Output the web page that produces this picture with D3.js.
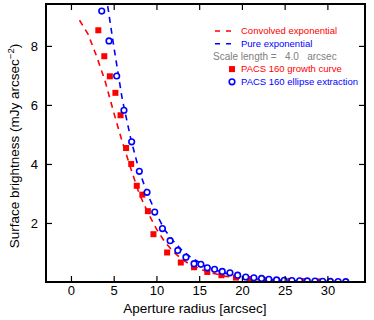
<!DOCTYPE html>
<html>
<head>
<meta charset="utf-8">
<script src="https://cdn.jsdelivr.net/npm/d3@7"></script>
<style>
  body { margin: 0; background: #fff; }
  svg text { font-family: "Liberation Sans", Arial, Helvetica, sans-serif; white-space: pre; }
</style>
</head>
<body>
<div id="chart"></div>
<script>
// surface brightness profile

// PACS 160 growth curve (red squares)
const growthR = [3.2, 3.9, 4.55, 5.2, 5.8, 6.45, 7.05, 7.7, 8.35, 9.0, 9.65, 11.25, 12.85, 14.4, 15.95, 17.6, 19.3, 20.9, 22.5, 24.1, 25.7, 27.3, 28.9];
const growthSB = [8.53, 7.65, 6.97, 6.41, 5.65, 4.54, 4.0, 3.26, 2.96, 2.4, 1.62, 1.0, 0.66, 0.5, 0.34, 0.23, 0.15, 0.1, 0.07, 0.05, 0.04, 0.03, 0.02];

// PACS 160 ellipse extraction (blue circles)
const ellipseR = [3.6, 4.45, 5.35, 6.2, 7.1, 8.0, 8.9, 9.8, 10.7, 11.6, 12.5, 13.45, 14.4, 15.2, 15.95, 16.8, 17.7, 18.6, 19.5, 20.45, 21.4, 22.3, 23.15, 24.05, 24.95, 25.85, 26.75, 27.65, 28.55, 29.45, 30.35, 31.25, 32.15];
const ellipseSB = [9.18, 8.17, 6.98, 5.82, 4.75, 3.75, 3.04, 2.37, 1.81, 1.4, 1.07, 0.84, 0.62, 0.6, 0.48, 0.43, 0.36, 0.31, 0.23, 0.17, 0.14, 0.12, 0.09, 0.07, 0.06, 0.05, 0.04, 0.035, 0.03, 0.025, 0.02, 0.015, 0.01];

// convolved exponential (red dashed)
const convR = [1.0, 2.0, 3.0, 4.0, 5.0, 6.0, 7.0, 8.0, 9.0, 10, 11, 12, 13, 14, 16, 18, 20, 22, 24, 26, 28, 30, 32, 33];
const convSB = [8.87, 8.4, 7.65, 6.8, 5.75, 4.75, 3.85, 2.98, 2.35, 1.8, 1.35, 1.02, 0.77, 0.58, 0.34, 0.2, 0.12, 0.08, 0.05, 0.03, 0.02, 0.015, 0.01, 0.01];

// pure exponential (blue dashed)
const pureR = [4.3, 5.0, 6.0, 7.0, 8.0, 9.0, 10, 11, 12, 13, 14, 16, 18, 20, 22, 24, 26, 28, 30, 32, 33];
const pureSB = [9.35, 8.0, 6.2, 4.85, 3.75, 2.95, 2.3, 1.75, 1.38, 1.07, 0.84, 0.5, 0.3, 0.18, 0.11, 0.07, 0.04, 0.025, 0.015, 0.01, 0.01];

const xTicks = [0, 5, 10, 15, 20, 25, 30];
const yTicks = [2, 4, 6, 8];

const legendItems = [
  { label: "Convolved exponential", color: "#ff0000", kind: "dash" },
  { label: "Pure exponential", color: "#0000ff", kind: "dash" },
  { label: "Scale length =   4.0   arcsec", color: "#808080", kind: "text" },
  { label: "PACS 160 growth curve", color: "#ff0000", kind: "square" },
  { label: "PACS 160 ellipse extraction", color: "#0000ff", kind: "circle" }
];

const W = 374, H = 320;
const margin = { top: 4, right: 9, bottom: 38, left: 46 };
const width = W - margin.left - margin.right;
const height = H - margin.top - margin.bottom;

const svg = d3.select("#chart").append("svg")
  .attr("width", W)
  .attr("height", H);

const g = svg.append("g")
  .attr("transform", `translate(${margin.left},${margin.top})`);

const x = d3.scaleLinear().domain([-2.92, 34.4]).range([0, width]);
const y = d3.scaleLinear().domain([0, 9.42]).range([height, 0]);

svg.append("defs").append("clipPath").attr("id", "plot-clip")
  .append("rect").attr("width", width).attr("height", height);

const plot = g.append("g").attr("clip-path", "url(#plot-clip)");

// dashed model curves
const line = d3.line().x(d => x(d[0])).y(d => y(d[1]));

plot.append("path")
  .datum(d3.zip(convR, convSB))
  .attr("fill", "none")
  .attr("stroke", "#ff0000")
  .attr("stroke-width", 1.6)
  .attr("stroke-dasharray", "6,5")
  .attr("d", line);

plot.append("path")
  .datum(d3.zip(pureR, pureSB))
  .attr("fill", "none")
  .attr("stroke", "#0000ff")
  .attr("stroke-width", 1.6)
  .attr("stroke-dasharray", "6,5")
  .attr("d", line);

// growth curve squares
plot.selectAll(".sq")
  .data(d3.zip(growthR, growthSB))
  .enter().append("rect")
  .attr("class", "sq")
  .attr("x", d => x(d[0]) - 3)
  .attr("y", d => y(d[1]) - 3)
  .attr("width", 6)
  .attr("height", 6)
  .attr("fill", "#ff0000");

// ellipse extraction circles
plot.selectAll(".circ")
  .data(d3.zip(ellipseR, ellipseSB))
  .enter().append("circle")
  .attr("class", "circ")
  .attr("cx", d => x(d[0]))
  .attr("cy", d => y(d[1]))
  .attr("r", 2.8)
  .attr("fill", "#fff")
  .attr("stroke", "#0000ff")
  .attr("stroke-width", 1.6);

// axes: ticks point inward on all four sides
const tickLen = 6;

const xBottom = g.append("g")
  .attr("transform", `translate(0,${height})`)
  .call(d3.axisBottom(x).tickValues(xTicks).tickSize(-tickLen).tickPadding(4));
const xTop = g.append("g")
  .call(d3.axisTop(x).tickValues(xTicks).tickSize(-tickLen).tickFormat(""));
const yLeft = g.append("g")
  .call(d3.axisLeft(y).tickValues(yTicks).tickSize(-tickLen).tickPadding(8));
const yRight = g.append("g")
  .attr("transform", `translate(${width},0)`)
  .call(d3.axisRight(y).tickValues(yTicks).tickSize(-tickLen).tickFormat(""));

[xBottom, xTop, yLeft, yRight].forEach(a => {
  a.select(".domain").remove();
  a.selectAll("line").attr("stroke", "#000").attr("stroke-width", 1.2);
  a.selectAll("text")
    .attr("fill", "#000")
    .style("font-size", "13px")
    .style("font-family", "'Liberation Sans', Arial, sans-serif");
});

// frame
g.append("rect")
  .attr("width", width)
  .attr("height", height)
  .attr("fill", "none")
  .attr("stroke", "#000")
  .attr("stroke-width", 2);

// axis titles
svg.append("text")
  .attr("x", margin.left + x(14.5))
  .attr("y", 313)
  .attr("text-anchor", "middle")
  .style("font-size", "13.5px")
  .text("Aperture radius [arcsec]");

const yTitle = svg.append("text")
  .attr("transform", `translate(19,${margin.top + height / 2 + 3}) rotate(-90)`)
  .attr("text-anchor", "middle")
  .style("font-size", "13.5px");
yTitle.append("tspan").text("Surface brightness (mJy arcsec");
yTitle.append("tspan").attr("dy", -5).style("font-size", "9.5px").text("\u22122");
yTitle.append("tspan").attr("dy", 5).text(")");

// legend
const leg = svg.append("g").attr("transform", "translate(241,31)");
legendItems.forEach((it, i) => {
  const row = leg.append("g").attr("transform", `translate(0,${i * 12.7})`);
  if (it.kind === "dash") {
    row.append("line")
      .attr("x1", -26).attr("x2", -10)
      .attr("y1", 0).attr("y2", 0)
      .attr("stroke", it.color)
      .attr("stroke-width", 1.4)
      .attr("stroke-dasharray", "5,6");
  } else if (it.kind === "square") {
    row.append("rect")
      .attr("x", -12).attr("y", -3)
      .attr("width", 6).attr("height", 6)
      .attr("fill", it.color);
  } else if (it.kind === "circle") {
    row.append("circle")
      .attr("cx", -9).attr("cy", 0).attr("r", 2.8)
      .attr("fill", "#fff")
      .attr("stroke", it.color)
      .attr("stroke-width", 1.6);
  }
  row.append("text")
    .attr("x", it.kind === "text" ? -28 : 0)
    .attr("y", 3.3)
    .attr("fill", it.color)
    .style("font-size", it.kind === "text" ? "10px" : "9.5px")
    .text(it.label);
});
</script>
</body>
</html>
